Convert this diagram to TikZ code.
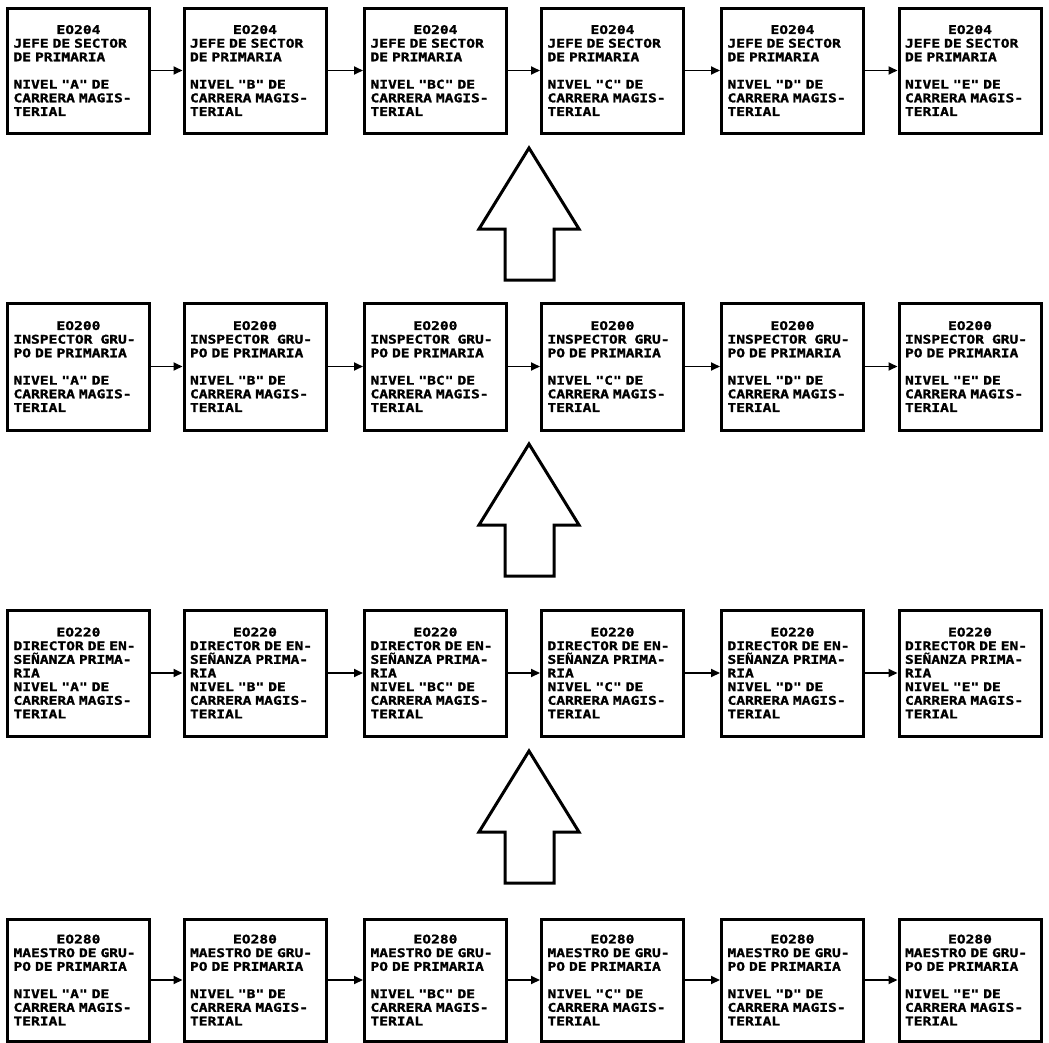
\documentclass[tikz,border=0pt]{standalone}
\usepackage{fontspec}
\newfontfamily\boxfont[FakeStretch=1.22,FakeBold=1.5]{DejaVu Sans Mono Bold}
\usetikzlibrary{arrows.meta}
\newcommand\codeline[1]{\makebox[\linewidth]{#1}}
\begin{document}
\begin{tikzpicture}[x=1bp,y=-1bp,
  stagebox/.style={draw, line width=3bp, minimum width=142bp, inner xsep=6bp, inner ysep=2bp,
    text width=130bp, align=left, font=\boxfont\fontsize{12}{13.7}\selectfont},
  flow/.style={line width=1.8bp, -{Triangle[length=9bp,width=8bp]}},
  bigup/.style={draw, line width=3bp, line join=miter}]
\useasboundingbox (0,0) rectangle (1049,1043);

% Row 1: Jefe de sector
\foreach \lv/\cx [count=\i] in {A/78.5,B/255,BC/435.5,C/612.5,D/792.5,E/970}
  \node[stagebox, minimum height=125bp] (a\i) at (\cx,70.5)
    {\codeline{EO204}\\JEFE DE SECTOR\\DE PRIMARIA\\[13.7bp]NIVEL "\lv" DE\\CARRERA MAGIS-\\TERIAL};

% Row 2: Inspector
\foreach \lv/\cx [count=\i] in {A/78.5,B/255,BC/435.5,C/612.5,D/792.5,E/970}
  \node[stagebox, minimum height=127bp] (b\i) at (\cx,366.5)
    {\codeline{EO200}\\INSPECTOR\ \ GRU-\\PO DE PRIMARIA\\[13.7bp]NIVEL "\lv" DE\\CARRERA MAGIS-\\TERIAL};

% Row 3: Director
\foreach \lv/\cx [count=\i] in {A/78.5,B/255,BC/435.5,C/612.5,D/792.5,E/970}
  \node[stagebox, minimum height=126bp] (c\i) at (\cx,673)
    {\codeline{EO220}\\DIRECTOR DE EN-\\SEÑANZA PRIMA-\\RIA\\NIVEL "\lv" DE\\CARRERA MAGIS-\\TERIAL};

% Row 4: Maestro
\foreach \lv/\cx [count=\i] in {A/78.5,B/255,BC/435.5,C/612.5,D/792.5,E/970}
  \node[stagebox, minimum height=122bp] (d\i) at (\cx,980)
    {\codeline{EO280}\\MAESTRO DE GRU-\\PO DE PRIMARIA\\[13.7bp]NIVEL "\lv" DE\\CARRERA MAGIS-\\TERIAL};

% Horizontal connectors
\foreach \r in {a,b,c,d}
  \foreach \i/\j in {1/2,2/3,3/4,4/5,5/6}
    \draw[flow] (\r\i.east) -- (\r\j.west);

% Big hollow up arrows
\foreach \t in {148,444,751}
  \draw[bigup] (529,\t) -- (579,\t+81) -- (554,\t+81) -- (554,\t+132)
    -- (505,\t+132) -- (505,\t+81) -- (479,\t+81) -- cycle;
\end{tikzpicture}
\end{document}
